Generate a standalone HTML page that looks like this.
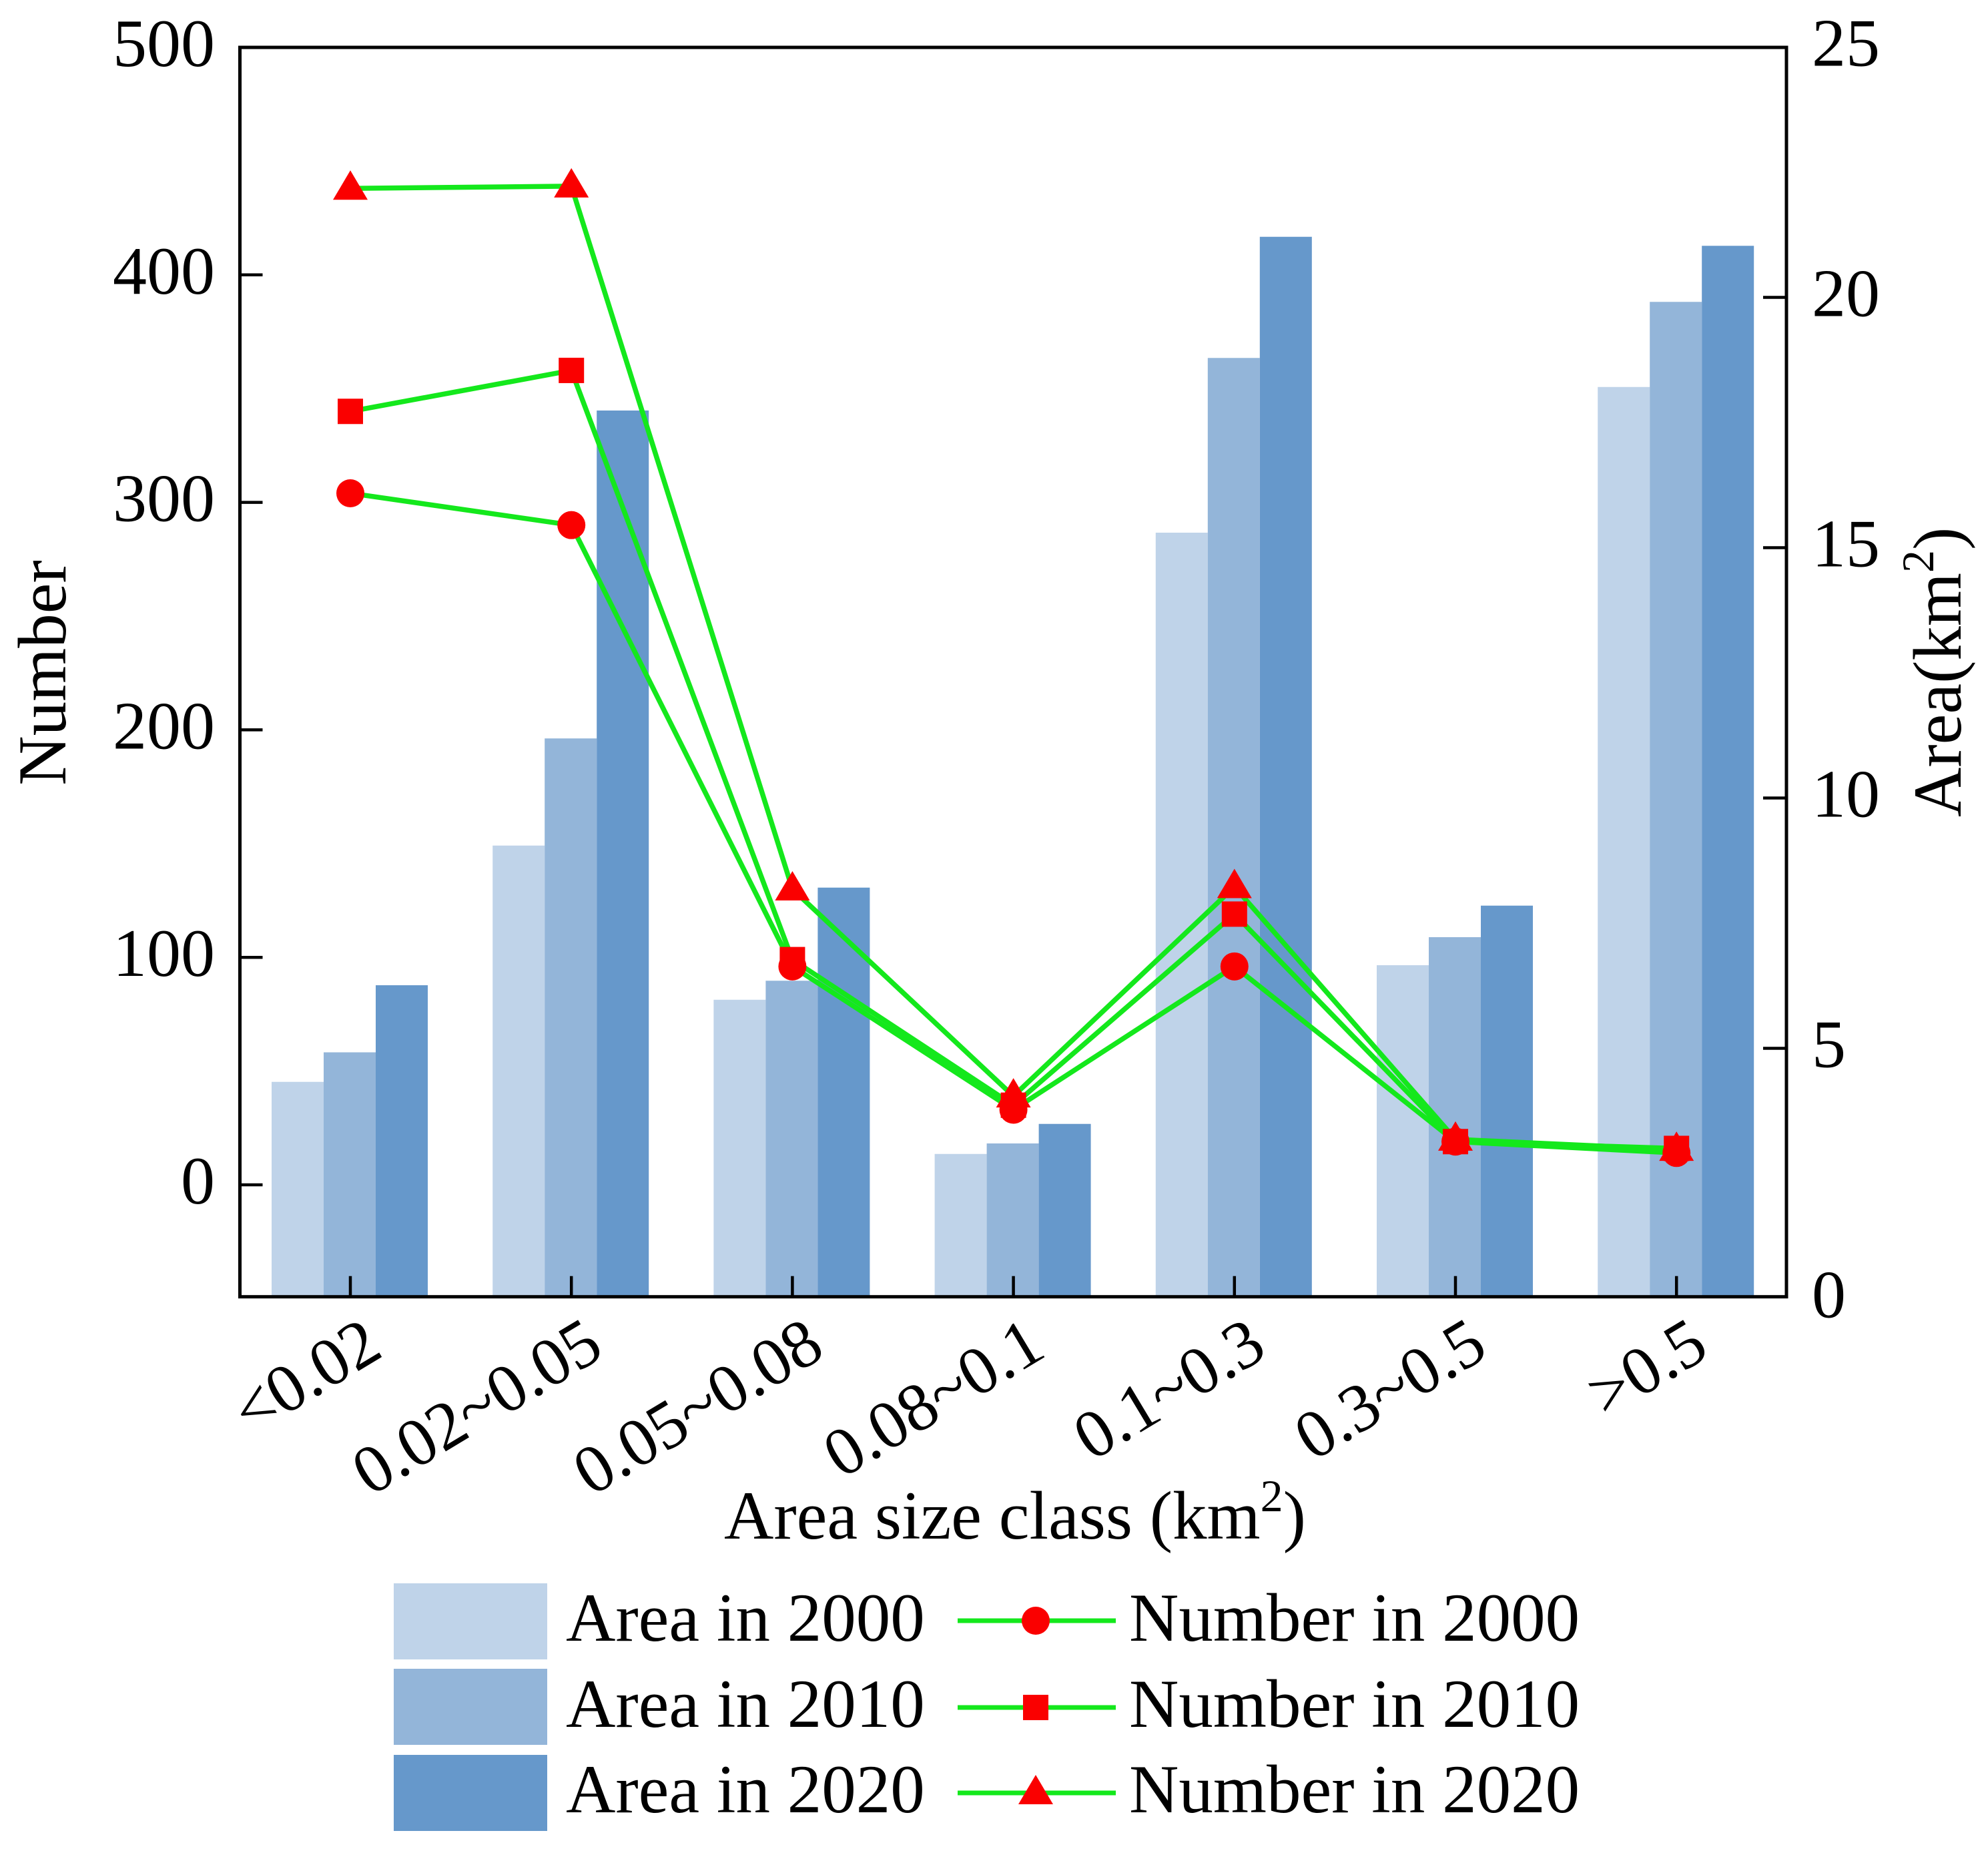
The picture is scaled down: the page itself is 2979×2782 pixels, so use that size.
<!DOCTYPE html>
<html lang="en">
<head>
<meta charset="utf-8">
<title>Area and number by size class</title>
<style>
html,body{margin:0;padding:0;background:#fff;width:2979px;height:2782px;overflow:hidden}
svg{display:block}
text{font-family:"Liberation Serif",serif;font-size:102px;fill:#000}
text.big{font-size:103px}
</style>
</head>
<body>
<svg id="chart" xmlns="http://www.w3.org/2000/svg" width="2979" height="2782" viewBox="0 0 2979 2782"></svg>
<script>
const categories = ['<0.02','0.02~0.05','0.05~0.08','0.08~0.1','0.1~0.3','0.3~0.5','>0.5'];
const area2000 = [4.33,9.05,5.97,2.89,15.3,6.66,18.21];
const area2010 = [4.92,11.19,6.35,3.10,18.79,7.22,19.91];
const area2020 = [6.26,17.74,8.21,3.49,21.21,7.85,21.03];
const number2000 = [304,290,96,33,96,19,14];
const number2010 = [340,358,99,35,119,19,16];
const number2020 = [438,439,130,39,131,20,15.5];
const leftTicks = [0,100,200,300,400,500];
const rightTicks = [0,5,10,15,20,25];
const areaYears = ['Area in 2000','Area in 2010','Area in 2020'];
const numberYears = ['Number in 2000','Number in 2010','Number in 2020'];

const NS = 'http://www.w3.org/2000/svg';
const svg = document.getElementById('chart');
const plot = {left:359.5, right:2677, top:71, bottom:1942.7};
const barColors = ['#bfd3e9','#93b5d9','#6698cb'];
const lineColor = '#14e81c';
const markerColor = '#fa0000';

function xCat(i){ return 525 + 331.2 * i; }
function yLeft(v){ return 1775 - 3.408 * v; }
function yRight(v){ return 1945.5 - 75 * v; }

function el(tag, attrs, text){
  const n = document.createElementNS(NS, tag);
  for (const k in attrs) n.setAttribute(k, attrs[k]);
  if (text !== undefined) n.textContent = text;
  svg.appendChild(n);
  return n;
}
function drawMarker(kind, x, y){
  if (kind === 0) return el('circle', {cx:x, cy:y, r:21, fill:markerColor});
  if (kind === 1) return el('rect', {x:x-19, y:y-19, width:38, height:38, fill:markerColor});
  return el('polygon', {points:`${x},${y-27} ${x+26},${y+17} ${x-26},${y+17}`, fill:markerColor});
}

/* bars */
const areaSeries = [area2000, area2010, area2020];
const barWidth = 78;
areaSeries.forEach((series, s) => {
  series.forEach((v, i) => {
    const x = xCat(i) - 1 + (s - 1.5) * barWidth;
    const y = yRight(v);
    const bar = el('rect', {x:x, y:y, width:barWidth, height:plot.bottom - y, fill:barColors[s]});
    
    
  });
});

/* frame */
const frame = el('rect', {x:plot.left, y:plot.top, width:plot.right-plot.left, height:plot.bottom-plot.top, fill:'none', stroke:'#000', 'stroke-width':5});



/* left axis */
leftTicks.forEach(v => {
  const y = yLeft(v);
  if (v !== 500) {
    const t = el('line', {x1:plot.left, x2:plot.left+34, y1:y, y2:y, stroke:'#000', 'stroke-width':4.5});
    
    
  }
  const lab = el('text', {x:322, y:y+28, 'text-anchor':'end'}, String(v));
  
  
});

/* right axis */
rightTicks.forEach(v => {
  const y = yRight(v);
  if (v !== 0 && v !== 25) {
    const t = el('line', {x1:plot.right-35, x2:plot.right, y1:y, y2:y, stroke:'#000', 'stroke-width':4.5});
    
    
  }
  const lab = el('text', {x:2715, y:y+28, 'text-anchor':'start'}, String(v));
  
  
});

/* x axis */
categories.forEach((c, i) => {
  const x = xCat(i);
  const t = el('line', {x1:x, x2:x, y1:plot.bottom-31, y2:plot.bottom, stroke:'#000', 'stroke-width':4.5});
  
  
  const lx = x + 52, ly = 2030;
  const lab = el('text', {x:lx, y:ly, 'text-anchor':'end', transform:`rotate(-31 ${lx} ${ly})`}, c);
  
  
});

/* number lines */
const numberSeries = [number2000, number2010, number2020];
numberSeries.forEach(series => {
  const pts = series.map((v, i) => `${xCat(i)},${yLeft(v)}`).join(' ');
  const line = el('polyline', {points:pts, fill:'none', stroke:lineColor, 'stroke-width':7.5, 'stroke-linejoin':'round'});
  
  
});
numberSeries.forEach((series, s) => {
  series.forEach((v, i) => {
    const m = drawMarker(s, xCat(i), yLeft(v));
    
    
  });
});

/* axis titles */
const titleLeft = el('text', {x:98, y:1008, 'text-anchor':'middle', class:'big', transform:'rotate(-90 98 1008)'}, 'Number');



const titleRight = el('text', {x:2938, y:1224, class:'big', transform:'rotate(-90 2938 1224)'});


titleRight.innerHTML = 'Area(km<tspan dy="-41" font-size="68">2</tspan><tspan dy="41">)</tspan>';

const titleX = el('text', {x:1085, y:2305, class:'big'});


titleX.innerHTML = 'Area size class (km<tspan dy="-41" font-size="68">2</tspan><tspan dy="41">)</tspan>';

/* legend */
const swatchTops = [2372, 2500, 2629];
const legendBaselines = [2458, 2587, 2715];
const legendLineY = [2428, 2558, 2686];
areaYears.forEach((label, s) => {
  const sw = el('rect', {x:590, y:swatchTops[s], width:230, height:114, fill:barColors[s]});
  
  
  const txt = el('text', {x:848, y:legendBaselines[s], class:'big'}, label);
  
  
});
numberYears.forEach((label, s) => {
  const l = el('line', {x1:1435, x2:1672, y1:legendLineY[s], y2:legendLineY[s], stroke:lineColor, 'stroke-width':7});
  
  
  const m = drawMarker(s, 1552, legendLineY[s]);
  
  
  const txt = el('text', {x:1692, y:legendBaselines[s], class:'big'}, label);
  
  
});
</script>
</body>
</html>
